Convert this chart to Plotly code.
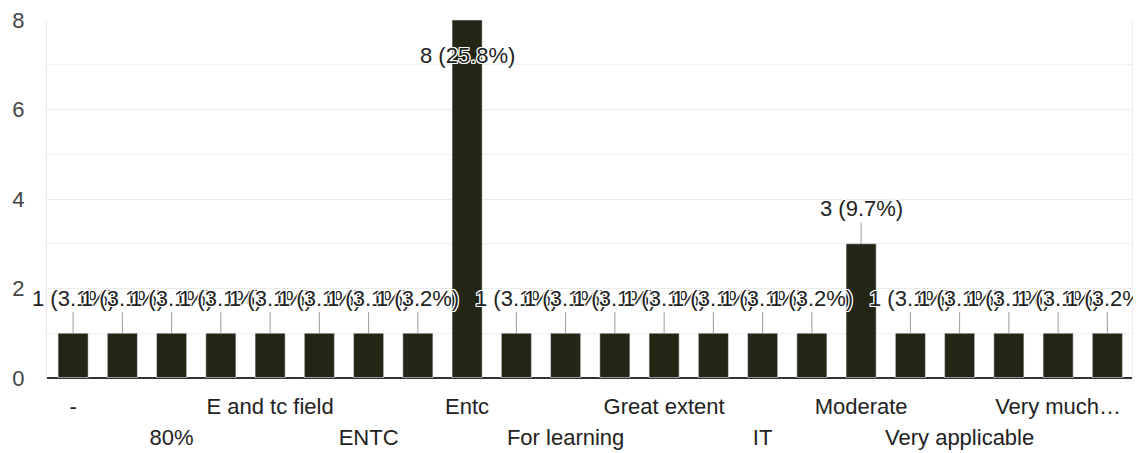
import plotly.graph_objects as go

# ---- data ----
categories = ["-", "", "80%", "", "E and tc field", "", "ENTC", "", "Entc", "",
              "For learning", "", "Great extent", "", "IT", "", "Moderate", "",
              "Very applicable", "", "Very much…", ""]
values = [1, 1, 1, 1, 1, 1, 1, 1, 8, 1, 1, 1, 1, 1, 1, 1, 3, 1, 1, 1, 1, 1]
percents = ["3.1%", "3.1%", "3.1%", "3.1%", "3.1%", "3.1%", "3.1%", "3.2%", "25.8%", "3.1%",
            "3.1%", "3.1%", "3.1%", "3.1%", "3.1%", "3.2%", "9.7%", "3.1%", "3.1%", "3.1%",
            "3.1%", "3.2%"]
y_ticks = [0, 2, 4, 6, 8]

FONT = "Liberation Sans, Arial, sans-serif"
FS = 22
BAR = "#232614"
xs = list(range(len(categories)))

fig = go.Figure()
fig.add_trace(go.Bar(x=xs, y=values, marker_color=BAR, width=0.61,
                     hoverinfo="skip", showlegend=False))

# row-1 labels and row-2 labels (alternating labelled categories)
row1_vals = [i for i in xs if categories[i] and (i // 2) % 2 == 0]
row2_vals = [i for i in xs if categories[i] and (i // 2) % 2 == 1]

halo = ("1px 1px 0 #fff, -1px -1px 0 #fff, 1px -1px 0 #fff, -1px 1px 0 #fff, "
        "0 1px 0 #fff, 0 -1px 0 #fff, 1px 0 0 #fff, -1px 0 0 #fff")
ymax = max(y_ticks)
for i, (v, p) in enumerate(zip(values, percents)):
    inside = v >= ymax
    fig.add_annotation(x=i, y=v, xref="x", yref="y",
                       text=f"{v} ({p})", showarrow=True, arrowhead=0,
                       arrowwidth=1, arrowcolor="#9a9a9a",
                       ax=0, ay=35 if inside else -35,
                       font=dict(family=FONT, size=FS, color="#222222", shadow=halo))

fig.update_layout(
    width=1133, height=445,
    margin=dict(l=39, r=9, t=12, b=75, autoexpand=False),
    paper_bgcolor="white", plot_bgcolor="white",
    bargap=0.39,
    font=dict(family=FONT, size=FS, color="#444444"),
    xaxis=dict(range=[-0.53, 21.5], tickmode="array", automargin=False,
               tickvals=row1_vals, ticktext=[categories[i] for i in row1_vals],
               showgrid=False, zeroline=False, ticks="", ticklabelstandoff=13,
               showline=False, tickfont=dict(family=FONT, size=FS, color="#222222")),
    xaxis2=dict(range=[-0.53, 21.5], overlaying="x", anchor="y", side="bottom",
                tickmode="array", tickvals=row2_vals, automargin=False,
                ticktext=[categories[i] for i in row2_vals],
                showgrid=False, zeroline=False, ticks="", ticklabelstandoff=44,
                showline=False, tickfont=dict(family=FONT, size=FS, color="#222222")),
    yaxis=dict(range=[0, 8], tickmode="array", tickvals=y_ticks, automargin=False,
               ticktext=[str(t) for t in y_ticks], ticklabeloverflow="allow",
               showgrid=True, gridcolor="#ebebeb", gridwidth=1,
               minor=dict(dtick=1, showgrid=True, gridcolor="#f0f0f0"),
               zeroline=True, zerolinecolor="#333333", zerolinewidth=2,
               showline=True, linecolor="#ebebeb", linewidth=1, mirror=True,
               ticks="", ticklabelstandoff=17,
               tickfont=dict(family=FONT, size=FS, color="#444444")),
)
# invisible companion trace so the second label row renders
fig.add_trace(go.Bar(x=xs, y=[0] * len(xs), xaxis="x2", yaxis="y",
                     marker_color="rgba(0,0,0,0)", hoverinfo="skip", showlegend=False))

fig.write_html("out.html")
